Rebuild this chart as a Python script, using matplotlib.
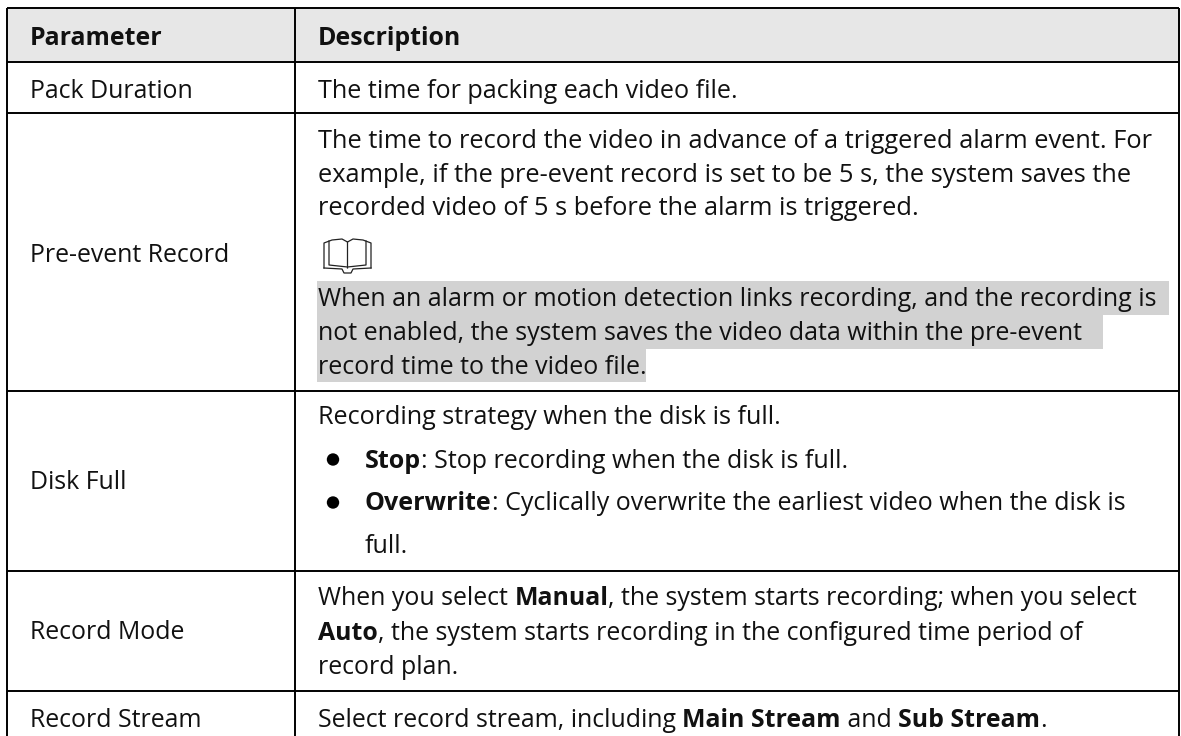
import matplotlib
matplotlib.use("Agg")
import matplotlib.pyplot as plt
from matplotlib.patches import Rectangle, Circle

W = 1181
H = 736
FONT = "Open Sans"
SIZE = 17.9

# table text, ** marks the bold parts
header = ["Parameter", "Description"]
parameters = ["Pack Duration", "Pre-event Record", "Disk Full", "Record Mode", "Record Stream"]
pack_lines = ["The time for packing each video file."]
pre_lines = [
    "The time to record the video in advance of a triggered alarm event. For",
    "example, if the pre-event record is set to be 5 s, the system saves the",
    "recorded video of 5 s before the alarm is triggered.",
]
note_lines = [
    "When an alarm or motion detection links recording, and the recording is",
    "not enabled, the system saves the video data within the pre-event",
    "record time to the video file.",
]
disk_lines = ["Recording strategy when the disk is full."]
disk_bullets = [
    "**Stop**: Stop recording when the disk is full.",
    "**Overwrite**: Cyclically overwrite the earliest video when the disk is",
    "full.",
]
mode_lines = [
    "When you select **Manual**, the system starts recording; when you select",
    "**Auto**, the system starts recording in the configured time period of",
    "record plan.",
]
stream_lines = ["Select record stream, including **Main Stream** and **Sub Stream**."]


def rich(ax, x, y, line, size=SIZE):
    # draw a line piece by piece, bold every second piece
    r = ax.figure.canvas.get_renderer()
    for i, part in enumerate(line.split("**")):
        if not part:
            continue
        w = "bold" if i % 2 else "normal"
        ax.text(x, y, part, fontsize=size, family=FONT, color="#111111",
                weight=w, va="baseline", ha="left")
        # trailing spaces are not in the extent, measure with a stop char
        t1 = ax.text(0, 0, part + "|", fontsize=size, family=FONT, weight=w)
        t2 = ax.text(0, 0, "|", fontsize=size, family=FONT, weight=w)
        x += t1.get_window_extent(r).width - t2.get_window_extent(r).width
        t1.remove()
        t2.remove()


def book(ax, x, y):
    # open book note icon, 47 wide and 34 high
    c = "#222222"
    lw = 0.9
    ax.plot([x, x, x + 8, x + 18, x + 23.5, x + 23.5],
            [y + 29, y + 4, y + 1, y, y + 3, y + 29], color=c, lw=lw)
    ax.plot([x + 47, x + 47, x + 39, x + 29, x + 23.5],
            [y + 29, y + 4, y + 1, y, y + 3], color=c, lw=lw)
    ax.plot([x + 5, x + 5, x + 23.5, x + 42, x + 42],
            [y + 2, y + 26, y + 28, y + 26, y + 2], color=c, lw=lw)
    ax.plot([x, x + 18, x + 20, x + 27, x + 29, x + 47],
            [y + 29, y + 30, y + 34, y + 34, y + 30, y + 29], color=c, lw=lw)


def main():
    fig = plt.figure(figsize=(W / 100, H / 100), dpi=100)
    ax = fig.add_axes([0, 0, 1, 1])
    ax.set_xlim(0, W)
    ax.set_ylim(H, 0)
    ax.axis("off")

    # backgrounds
    ax.add_patch(Rectangle((7, 8), 1172, 53, color="#e7e7e7", lw=0))
    ax.add_patch(Rectangle((317, 281), 852, 34, color="#d2d2d2", lw=0))
    ax.add_patch(Rectangle((317, 315), 786, 34, color="#d2d2d2", lw=0))
    ax.add_patch(Rectangle((317, 349), 329, 33, color="#d2d2d2", lw=0))

    # grid lines
    for y in [8.3, 61.7, 112.7, 390.8, 571, 690.5]:
        ax.plot([7, 1179], [y, y], color="black", lw=1.4, solid_capstyle="butt")
    for x in [7.3, 295, 1179]:
        ax.plot([x, x], [7.5, H], color="black", lw=1.4, solid_capstyle="butt")

    # first column
    rich(ax, 30, 45, "**" + header[0] + "**")
    for name, y in zip(parameters, [97.5, 261.5, 489, 639, 727]):
        rich(ax, 30, y, name)
    rich(ax, 318, 45, "**" + header[1] + "**")

    # second column
    rich(ax, 318, 97.5, pack_lines[0], 18.1)
    for i, line in enumerate(pre_lines):
        rich(ax, 318, 148 + i * 33.5, line, 18.25)
    book(ax, 324, 239)
    for i, line in enumerate(note_lines):
        rich(ax, 318, 306 + i * 34, line, 18.0)
    rich(ax, 318, 424.5, disk_lines[0], 18.1)
    for i, line in enumerate(disk_bullets):
        if i < 2:
            ax.add_patch(Circle((333, 459.5 + i * 43), 6.2, color="black", lw=0))
        rich(ax, 365, 468 + i * 42.5, line, 18.0)
    for i, line in enumerate(mode_lines):
        rich(ax, 318, 605 + i * 34.5, line)
    rich(ax, 318, 727, stream_lines[0])

    fig.savefig("out.png", dpi=100)


if __name__ == "__main__":
    main()
